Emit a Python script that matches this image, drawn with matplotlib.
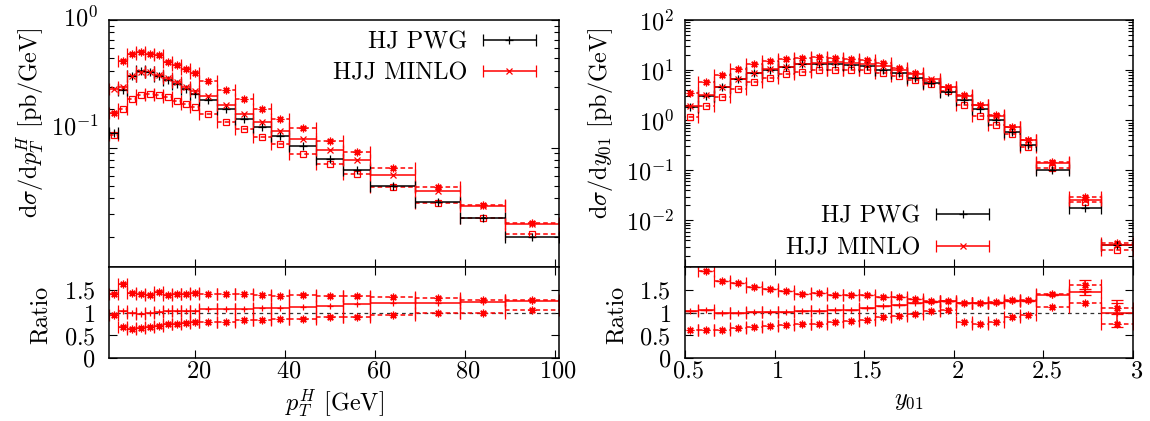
import numpy as np
import matplotlib
matplotlib.use("Agg")
import matplotlib.pyplot as plt
from matplotlib.container import ErrorbarContainer
from matplotlib.legend_handler import HandlerErrorbar
from matplotlib.transforms import ScaledTranslation
from matplotlib.ticker import LogLocator, NullFormatter

plt.rcParams['font.family'] = 'serif'
plt.rcParams['font.serif'] = ['cmr10']
plt.rcParams['mathtext.fontset'] = 'cm'
plt.rcParams['axes.formatter.use_mathtext'] = True
plt.rcParams['font.size'] = 17.5

# --- p_T^H spectrum ---
pt_edges = [1, 3, 5, 7, 9, 11, 13, 15, 17, 19, 21, 25, 29, 33, 37, 41, 47, 53, 59, 69, 79, 89, 101]
pt_pwg = [0.131, 0.285, 0.364, 0.398, 0.393, 0.364, 0.338, 0.313, 0.286, 0.263, 0.236,
          0.199, 0.169, 0.144, 0.123, 0.103, 0.082, 0.067, 0.050, 0.0376, 0.0279, 0.0200]
pt_minlo = [0.286, 0.296, 0.364, 0.390, 0.389, 0.371, 0.352, 0.329, 0.300, 0.276, 0.255,
            0.215, 0.183, 0.158, 0.135, 0.117, 0.095, 0.080, 0.061, 0.046, 0.0346, 0.0254]
pt_minlo_up = [0.187, 0.477, 0.541, 0.558, 0.538, 0.532, 0.471, 0.446, 0.411, 0.386, 0.332,
               0.282, 0.239, 0.200, 0.169, 0.142, 0.113, 0.092, 0.069, 0.049, 0.0353, 0.0256]
pt_minlo_dn = [0.125, 0.199, 0.239, 0.259, 0.262, 0.257, 0.247, 0.233, 0.218, 0.207, 0.184,
               0.160, 0.139, 0.121, 0.106, 0.089, 0.074, 0.062, 0.049, 0.037, 0.0279, 0.0212]
pt_ratio = [2.18, 1.04, 1.00, 0.98, 0.99, 1.02, 1.04, 1.05, 1.05, 1.05, 1.08,
            1.08, 1.08, 1.10, 1.10, 1.14, 1.16, 1.19, 1.22, 1.22, 1.24, 1.27]
pt_ratio_up = [1.43, 1.64, 1.44, 1.42, 1.40, 1.46, 1.40, 1.42, 1.42, 1.44, 1.41,
               1.41, 1.41, 1.39, 1.37, 1.39, 1.38, 1.38, 1.36, 1.33, 1.29, 1.28]
pt_ratio_dn = [0.96, 0.69, 0.64, 0.67, 0.69, 0.72, 0.75, 0.76, 0.78, 0.80, 0.81,
               0.81, 0.84, 0.84, 0.86, 0.87, 0.91, 0.92, 0.95, 0.995, 1.01, 1.06]

# --- y_01 spectrum ---
y_edges = [0.48, 0.57, 0.66, 0.75, 0.84, 0.93, 1.02, 1.11, 1.20, 1.29, 1.38, 1.47, 1.56,
           1.65, 1.74, 1.83, 1.92, 2.01, 2.10, 2.19, 2.28, 2.37, 2.46, 2.64, 2.82, 3.00]
y_pwg = [1.85, 3.02, 4.57, 6.52, 8.59, 10.0, 11.5, 13.0, 13.4, 13.4, 12.8, 12.0, 10.2,
         8.59, 7.05, 5.42, 3.6, 2.59, 1.64, 1.0, 0.575, 0.316, 0.10, 0.0177, 0.0033]
y_minlo = [1.94, 3.23, 4.57, 6.59, 8.85, 10.3, 11.8, 13.5, 14.1, 14.2, 13.7, 13.4, 11.9,
           10.1, 8.5, 6.8, 4.5, 3.1, 1.98, 1.23, 0.72, 0.40, 0.14, 0.026, 0.0033]
y_minlo_up = [3.53, 5.75, 7.83, 10.3, 13.0, 15.1, 16.9, 17.7, 18.5, 17.7, 16.9, 15.6, 13.6,
              11.2, 8.59, 6.03, 4.55, 3.15, 2.0, 1.25, 0.735, 0.40, 0.145, 0.0294, 0.0036]
y_minlo_dn = [1.15, 1.9, 2.94, 4.25, 5.75, 7.05, 8.2, 9.12, 9.86, 10.0, 10.0, 9.86, 8.9,
              7.59, 6.31, 5.18, 3.85, 1.97, 1.2, 0.82, 0.542, 0.288, 0.112, 0.0229, 0.0026]
y_ratio = [1.05, 1.07, 1.00, 1.01, 1.03, 1.03, 1.03, 1.04, 1.05, 1.06, 1.07, 1.12, 1.16,
           1.18, 1.21, 1.25, 1.26, 1.21, 1.21, 1.23, 1.26, 1.26, 1.40, 1.46, 0.99]
y_ratio_up = [2.1, 1.93, 1.71, 1.67, 1.57, 1.54, 1.48, 1.42, 1.45, 1.39, 1.39, 1.39, 1.35,
              1.35, 1.31, 1.26, 1.26, 1.23, 1.23, 1.25, 1.28, 1.28, 1.42, 1.61, 1.10]
y_ratio_dn = [0.62, 0.62, 0.62, 0.67, 0.69, 0.71, 0.73, 0.75, 0.76, 0.80, 0.82, 0.84, 0.90,
              0.93, 0.975, 1.04, 1.07, 0.79, 0.75, 0.81, 0.92, 0.96, 1.14, 1.21, 0.76]
# statistical errors visible on the last y_01 ratio bins
y_ratio_err = [0] * 23 + [0.07, 0.30]
y_ratio_up_err = [0] * 23 + [0.13, 0.12]

ratio_ticks = [0, 0.5, 1, 1.5]
ratio_labels = [r'$0$', r'$0.5$', r'$1$', r'$1.5$']

RED = '#ff0000'
STAR = (8, 2, 0)


def hist(ax, edges, vals, color, marker, dashed=False, ms=5, yerr=None):
    e = np.asarray(edges, float)
    xc = 0.5 * (e[1:] + e[:-1])
    xw = 0.5 * (e[1:] - e[:-1])
    c = ax.errorbar(xc, vals, xerr=xw, yerr=yerr, fmt='', marker=marker, color=color,
                    ms=ms, mfc='none', mew=0.9, elinewidth=1.1, capsize=4,
                    capthick=1.0, linestyle='none')
    if dashed:
        for b in c[2]:
            b.set_linestyle((0, (3, 2)))
    return c


def style(ax):
    for s in ax.spines.values():
        s.set_linewidth(1.1)
    ax.tick_params(which='both', direction='in', right=True)
    ax.tick_params(axis='y', pad=8)
    ax.tick_params(axis='x', pad=2)
    ax.tick_params(which='major', length=6, width=0.8)
    ax.tick_params(which='minor', length=3.5, width=0.8)


def shift_labels(ticks, shifts_px, dx=0.0):
    # the reference draws its tick labels a little off their ticks
    for tick, dy in zip(ticks, shifts_px):
        off = ScaledTranslation(dx / 100.0, -dy / 100.0, fig.dpi_scale_trans)
        tick.label1.set_transform(tick.label1.get_transform() + off)


fig = plt.figure(figsize=(11.5, 4.21), dpi=100)
axL = fig.add_axes([0.0952, 0.3658, 0.3909, 0.5867])
axLr = fig.add_axes([0.0952, 0.1496, 0.3909, 0.2162])
axR = fig.add_axes([0.5957, 0.3658, 0.3896, 0.5867])
axRr = fig.add_axes([0.5957, 0.1496, 0.3896, 0.2162])

panels = [
    (axL, axLr, pt_edges, pt_pwg, pt_minlo, pt_minlo_up, pt_minlo_dn,
     pt_ratio, pt_ratio_up, pt_ratio_dn, None, None),
    (axR, axRr, y_edges, y_pwg, y_minlo, y_minlo_up, y_minlo_dn,
     y_ratio, y_ratio_up, y_ratio_dn, y_ratio_err, y_ratio_up_err),
]

legend_handles = []
for ax, axr, edges, pwg, c, up, dn, r, rup, rdn, rerr, ruperr in panels:
    ax.set_yscale('log')
    hist(ax, edges, up, RED, STAR, dashed=True, ms=5.5)
    hist(ax, edges, dn, RED, 's', dashed=True, ms=5)
    h_pwg = hist(ax, edges, pwg, 'black', '+', ms=6)
    h_c = hist(ax, edges, c, RED, 'x', ms=5)
    legend_handles.append((h_pwg, h_c))
    axr.axhline(1.0, color='#333333', lw=0.9, ls=(0, (3, 3)))
    hist(axr, edges, rup, RED, STAR, dashed=True, ms=5.5, yerr=ruperr)
    hist(axr, edges, rdn, RED, STAR, dashed=True, ms=5.5)
    hist(axr, edges, r, RED, '+', ms=5, yerr=rerr)
    style(ax)
    style(axr)
    ax.tick_params(labelbottom=False)
    axr.tick_params(top=True)
    axr.tick_params(axis='y', pad=10)
    axr.set_ylim(0, 2.02)
    axr.set_yticks(ratio_ticks)
    axr.set_yticklabels(ratio_labels)
    axr.set_ylabel('Ratio')

axL.set_xlim(1, 101)
axLr.set_xlim(1, 101)
axLr.set_xticks([20, 40, 60, 80, 100])
axL.set_xticks([20, 40, 60, 80, 100])
axL.set_ylim(0.0116, 1.0)
axL.set_yticks([0.1, 1.0])
axL.set_yticklabels([r'$10^{-1}$', r'$10^{0}$'])
axL.yaxis.set_minor_locator(LogLocator(base=10, subs=np.arange(2, 10), numticks=12))
axL.yaxis.set_minor_formatter(NullFormatter())
shift_labels(axL.yaxis.get_major_ticks(), [-22, -4])

axR.set_xlim(0.5, 3.0)
axRr.set_xlim(0.5, 3.0)
axR.set_xticks([0.5, 1, 1.5, 2, 2.5, 3])
axRr.set_xticks([0.5, 1, 1.5, 2, 2.5, 3])
axRr.set_xticklabels(['0.5', '1', '1.5', '2', '2.5', '3'])
axR.set_ylim(1.18e-3, 100)

for axr in (axLr, axRr):
    xt = axr.xaxis.get_major_ticks()
    shift_labels(xt, [0] * len(xt), dx=3.5)

axL.set_ylabel(r'd$\sigma$/d$p_T^H$ [pb/GeV]')
axL.yaxis.set_label_coords(-0.141, 0.585)
axLr.yaxis.set_label_coords(-0.128, 0.47)
axLr.set_xlabel(r'$p_T^H$ [GeV]', labelpad=3)
axR.set_ylabel(r'd$\sigma$/d$y_{01}$ [pb/GeV]')
axR.yaxis.set_label_coords(-0.156, 0.58)
axRr.yaxis.set_label_coords(-0.127, 0.47)
axRr.set_xlabel(r'$y_{01}$', labelpad=5)

# legends
for ax, hs, anchor in ((axL, legend_handles[0], (0.952, 0.955)),
                       (axR, legend_handles[1], (0.682, 0.248))):
    ax.legend(list(hs), ['HJ PWG', 'HJJ MINLO'], loc='upper right',
              bbox_to_anchor=anchor, frameon=False, markerfirst=False,
              borderpad=0, borderaxespad=0, handlelength=2.3, handletextpad=0.6,
              labelspacing=0.38,
              handler_map={ErrorbarContainer: HandlerErrorbar(xerr_size=1.09)})

fig.savefig('out.png', dpi=100)
